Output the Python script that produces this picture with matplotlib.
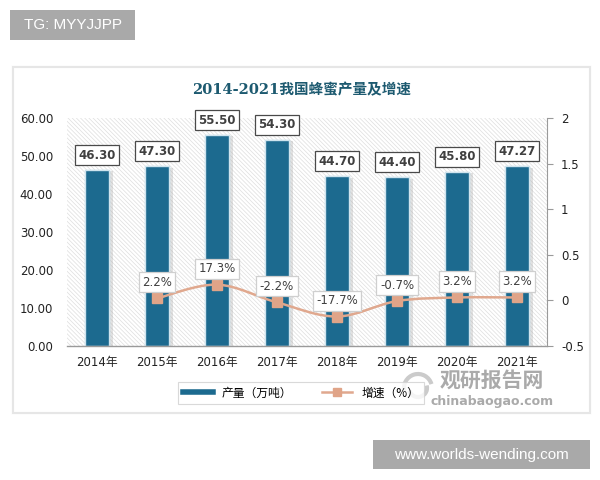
import matplotlib
matplotlib.use("Agg")
import matplotlib.pyplot as plt
from matplotlib.patches import Rectangle, PathPatch, Arc
from matplotlib.path import Path
from matplotlib.lines import Line2D
import matplotlib.patheffects as pe
import numpy as np

years = ["2014年", "2015年", "2016年", "2017年", "2018年", "2019年", "2020年", "2021年"]
output = [46.30, 47.30, 55.50, 54.30, 44.70, 44.40, 45.80, 47.27]
output_labels = ["46.30", "47.30", "55.50", "54.30", "44.70", "44.40", "45.80", "47.27"]
growth = [None, 0.022, 0.173, -0.022, -0.177, -0.007, 0.032, 0.032]
growth_labels = [None, "2.2%", "17.3%", "-2.2%", "-17.7%", "-0.7%", "3.2%", "3.2%"]
left_ticks = [0, 10, 20, 30, 40, 50, 60]
right_ticks = [-0.5, 0, 0.5, 1, 1.5, 2]
right_tick_labels = ["-0.5", "0", "0.5", "1", "1.5", "2"]

plt.rcParams['font.family'] = ['DejaVu Sans', 'Noto Sans CJK SC']
plt.rcParams['hatch.linewidth'] = 0.5

W, H = 600, 480
fig = plt.figure(figsize=(6, 4.8), dpi=100)
fig.patch.set_facecolor('white')

def fx(px):
    return px / W

def fy(py):
    return 1 - py / H

# card
card = Rectangle((fx(13), fy(413)), fx(590) - fx(13), fy(67) - fy(413), transform=fig.transFigure,
                 facecolor='white', edgecolor='#e6e6e6', linewidth=1.5, zorder=-10,
                 path_effects=[pe.withSimplePatchShadow(offset=(1, -1), shadow_rgbFace='#dddddd', alpha=0.4),
                               pe.Normal()])
fig.patches.append(card)

# top-left tag
fig.patches.append(Rectangle((fx(10), fy(40)), fx(135) - fx(10), fy(10) - fy(40), transform=fig.transFigure,
                             facecolor='#a9a9a9', edgecolor='none', zorder=-5))
fig.text(fx(72.5), fy(25), "TG: MYYJJPP", color='white', fontsize=11, ha='center', va='center',
         family=['Liberation Sans', 'DejaVu Sans'])

# bottom-right tag
fig.patches.append(Rectangle((fx(373), fy(469)), fx(590) - fx(373), fy(440) - fy(469), transform=fig.transFigure,
                             facecolor='#a9a9a9', edgecolor='none', zorder=-5))
fig.text(fx(481.5), fy(454.5), "www.worlds-wending.com", color='white', fontsize=11, ha='center', va='center',
         family=['Liberation Sans', 'DejaVu Sans'])

# axes
ax = fig.add_axes([fx(67), fy(346), fx(547) - fx(67), fy(118) - fy(346)])
ax.set_facecolor('white')
bg = Rectangle((0, 0), 1, 1, transform=ax.transAxes, facecolor='white', edgecolor='#dedede',
               hatch='\\\\\\\\\\\\\\\\', linewidth=0, zorder=0)
ax.add_patch(bg)

x = np.arange(len(years))
bars = ax.bar(x, output, width=0.4, color='#1c6a8f', edgecolor='#cfe4ee', linewidth=1.0, zorder=2)
for b in bars:
    b.set_path_effects([pe.withSimplePatchShadow(offset=(3, -1), shadow_rgbFace='#a0a0a0', alpha=0.3), pe.Normal()])

ax.set_xlim(-0.5, len(years) - 0.5)
ax.set_ylim(0, 60)
ax.set_yticks(left_ticks)
ax.set_yticklabels([f"{t:.2f}" for t in left_ticks], fontsize=8.5, color='#222222')
ax.set_xticks(x)
ax.set_xticklabels(years, fontsize=8.5, color='#222222')
ax.tick_params(axis='y', length=0, pad=10)
ax.tick_params(axis='x', length=0, pad=7)
for s in ['top', 'left', 'right']:
    ax.spines[s].set_visible(False)
ax.spines['bottom'].set_color('#9a9a9a')
ax.spines['bottom'].set_linewidth(1)

for i, (v, lab) in enumerate(zip(output, output_labels)):
    ax.annotate(lab, xy=(i, v), xytext=(0, 15), textcoords='offset pixels', ha='center', va='center',
                fontsize=8.5, fontweight='bold', color='#404040', zorder=6,
                bbox=dict(boxstyle='square,pad=0.3', facecolor='white', edgecolor='#4a4a4a', linewidth=0.9))

# secondary axis
ax2 = ax.twinx()
ax2.set_ylim(-0.5, 2)
ax2.set_yticks(right_ticks)
ax2.set_yticklabels(right_tick_labels, fontsize=8.5, color='#222222')
ax2.tick_params(axis='y', length=4, color='#9a9a9a', pad=6)
for s in ['top', 'left', 'bottom']:
    ax2.spines[s].set_visible(False)
ax2.spines['right'].set_color('#9a9a9a')

gx = [i for i, g in enumerate(growth) if g is not None]
gy = [g for g in growth if g is not None]

# smooth curve through points (cubic Bezier, Catmull-Rom style)
pts = np.column_stack([gx, gy]).astype(float)
n = len(pts)
verts = [tuple(pts[0])]
codes = [Path.MOVETO]
for i in range(n - 1):
    p0 = pts[i - 1] if i > 0 else pts[i]
    p1 = pts[i]
    p2 = pts[i + 1]
    p3 = pts[i + 2] if i + 2 < n else pts[i + 1]
    c1 = p1 + (p2 - p0) / 6.0
    c2 = p2 - (p3 - p1) / 6.0
    verts += [tuple(c1), tuple(c2), tuple(p2)]
    codes += [Path.CURVE4, Path.CURVE4, Path.CURVE4]
curve = PathPatch(Path(verts, codes), facecolor='none', edgecolor='#e0a88e', linewidth=1.8, zorder=3)
ax2.add_patch(curve)
ax2.plot(gx, gy, linestyle='none', marker='s', markersize=6.5, color='#e0a488',
         markeredgecolor='#e0a488', zorder=4)

for i, g in enumerate(growth):
    if g is None:
        continue
    ax2.annotate(growth_labels[i], xy=(i, g), xytext=(0, 16), textcoords='offset pixels', ha='center',
                 va='center', fontsize=8.5, color='#404040', zorder=6,
                 bbox=dict(boxstyle='square,pad=0.3', facecolor='white', edgecolor='#cfcfcf', linewidth=0.9))

# title
fig.text(fx(302), fy(90), "2014-2021我国蜂蜜产量及增速", ha='center', va='center', fontsize=10.5,
         fontweight='bold', color='#1d5a70', family=['DejaVu Serif', 'Noto Sans CJK SC'])

# legend
h1 = Line2D([], [], color='#1c6a8f', linewidth=4)
h2 = Line2D([], [], color='#e0a88e', linewidth=1.8, marker='s', markersize=6, markerfacecolor='#e0a488',
            markeredgecolor='#e0a488')
leg = fig.legend([h1, h2], ["产量（万吨）", "增速（%）"], loc='center', bbox_to_anchor=(fx(301), fy(393)),
                 ncol=2, frameon=True, fancybox=False, edgecolor='#d0d0d0',
                 handlelength=2.5, columnspacing=2.5, borderpad=0.4,
                 prop={'family': ['Noto Sans CJK SC'], 'size': 8.5})
leg.get_frame().set_linewidth(0.8)

# watermark
for r, a1, a2 in [(14, 20, 200), (9, 200, 380)]:
    arc = Arc((fx(418), fy(388)), 2 * r / W, 2 * r / H, theta1=a1, theta2=a2, transform=fig.transFigure,
              color='#b5b5b5', linewidth=3, alpha=0.7)
    fig.patches.append(arc)
fig.text(fx(492), fy(380), "观研报告网", ha='center', va='center', fontsize=15, fontweight='bold',
         color='#9b9b9b', alpha=0.85, family=['Noto Sans CJK SC'])
fig.text(fx(492), fy(401), "chinabaogao.com", ha='center', va='center', fontsize=9, fontweight='bold',
         color='#9b9b9b', alpha=0.85)

fig.savefig("out.png", dpi=100, facecolor='white')
